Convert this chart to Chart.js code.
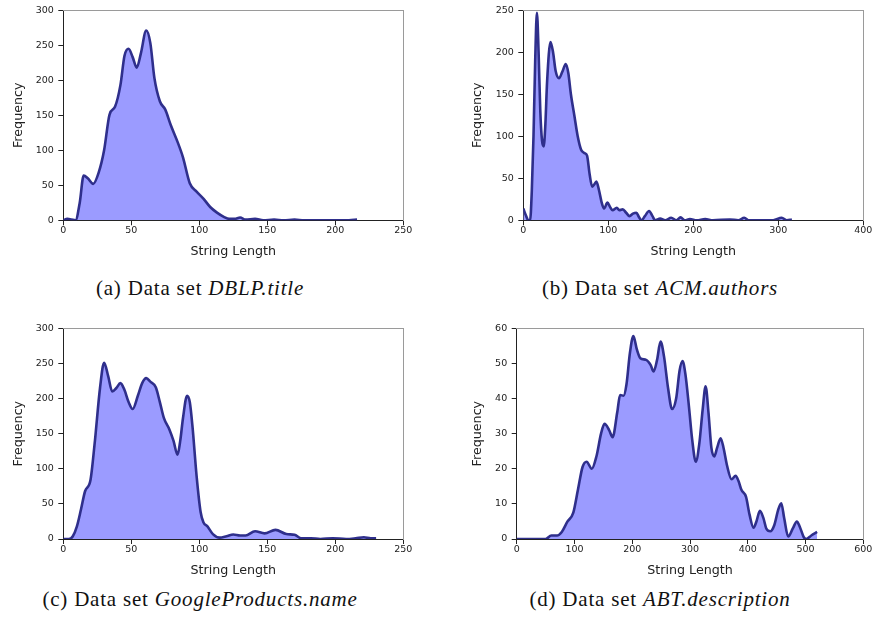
<!DOCTYPE html>
<html>
<head>
<meta charset="utf-8">
<script src="https://cdn.jsdelivr.net/npm/chart.js@4.4.0/dist/chart.umd.min.js"></script>
<style>
  body { margin: 0; background: #fff; width: 875px; height: 623px; position: relative; overflow: hidden; }
  canvas { position: absolute; }
  .cap { position: absolute; width: 440px; text-align: center; font-family: "Liberation Serif", serif; font-size: 21px; line-height: 25px; letter-spacing: 0.8px; color: #111; white-space: nowrap; }
</style>
</head>
<body>
<canvas id="chartA" width="420" height="270" style="left:0;top:0"></canvas>
<canvas id="chartB" width="435" height="270" style="left:440px;top:0"></canvas>
<canvas id="chartC" width="420" height="270" style="left:0;top:310px"></canvas>
<canvas id="chartD" width="435" height="270" style="left:440px;top:310px"></canvas>

<div class="cap" style="left:-20px;top:276px">(a) Data set <i>DBLP.title</i></div>
<div class="cap" style="left:440px;top:276px">(b) Data set <i>ACM.authors</i></div>
<div class="cap" style="left:-20px;top:587px">(c) Data set <i>GoogleProducts.name</i></div>
<div class="cap" style="left:440px;top:587px">(d) Data set <i>ABT.description</i></div>

<script>
// Dados (comprimento da string -> frequência)
const dblpLength = [0, 3, 6, 9, 12, 15, 18, 22, 26, 30, 34, 38, 42, 45, 48, 51, 54, 57, 61, 64, 67, 71, 75, 79, 84, 88, 93, 98, 103, 108, 113, 118, 122, 126, 130, 134, 141, 147, 155, 162, 170, 177, 190, 200, 210, 216];
const dblpFreq   = [0, 2, 1, 0, 24, 64, 60, 52, 68, 100, 151, 162, 193, 235, 245, 233, 218, 238, 271, 253, 203, 170, 158, 136, 112, 90, 53, 41, 31, 19, 11, 5, 2, 2, 4, 1, 2, 0, 1, 0, 1, 0, 0, 0, 0, 1];

const acmLength = [0, 3, 6, 8, 10, 12, 14, 16, 18, 20, 22, 24, 26, 28, 32, 35, 38, 42, 46, 50, 53, 56, 60, 64, 68, 72, 75, 78, 81, 83, 86, 89, 92, 95, 99, 102, 105, 110, 113, 117, 121, 125, 129, 133, 136, 139, 143, 148, 152, 155, 161, 167, 174, 180, 185, 190, 196, 204, 214, 223, 243, 253, 260, 265, 294, 304, 310, 316];
const acmFreq   = [14, 6, 0, 0, 35, 100, 190, 247, 200, 130, 95, 88, 115, 165, 212, 200, 178, 169, 177, 186, 175, 150, 125, 100, 84, 80, 77, 55, 40, 42, 46, 36, 22, 14, 21, 16, 12, 15, 12, 13, 9, 5, 8, 9, 4, 0, 5, 11, 5, 0, 2, 0, 3, 0, 3.5, 0, 1.5, 0, 1.5, 0, 1, 0, 3, 0, 0, 3, 0, 1];

const gpLength = [0, 4, 7, 10, 13, 16, 20, 23, 27, 30, 33, 36, 39, 42, 45, 48, 51, 55, 58, 61, 64, 68, 71, 74, 78, 81, 84, 86, 88, 91, 93, 95, 98, 101, 103, 106, 110, 115, 120, 125, 130, 134, 141, 148, 156, 164, 170, 175, 182, 189, 198, 208, 215, 221, 226, 230];
const gpFreq   = [0, 0, 4, 18, 42, 68, 84, 135, 215, 251, 232, 210, 215, 222, 212, 195, 185, 205, 222, 229, 224, 216, 195, 172, 156, 140, 120, 140, 172, 204, 195, 160, 90, 38, 24, 18, 7, 2, 4, 6.5, 5, 5, 11, 8, 13, 7, 6, 1, 1, 0, 1, 0, 1, 2.4, 1, 1];

const abtLength = [0, 30, 50, 60, 70, 78, 88, 98, 106, 114, 121, 130, 138, 146, 152, 160, 166, 174, 179, 185, 190, 196, 202, 208, 214, 224, 232, 237, 243, 249, 255, 262, 269, 276, 282, 287, 292, 298, 304, 310, 316, 322, 327, 332, 337, 342, 347, 353, 358, 364, 372, 379, 384, 389, 397, 403, 410, 415, 421, 427, 432, 439, 446, 453, 458, 463, 470, 478, 485, 490, 497, 501, 510, 520];
const abtFreq   = [0, 0, 0, 1, 1, 2, 5, 7.5, 14, 20.5, 22, 20, 23.5, 30, 32.8, 31, 29, 36, 41, 40.8, 44, 53, 57.8, 54, 51.5, 51, 49.5, 47.7, 51, 56.2, 52, 43, 37, 40, 48, 50.7, 47, 38, 28, 22, 27, 37, 43.5, 36, 26, 23.5, 26, 28.7, 26, 21, 17, 18, 16.5, 14, 12, 7, 3.2, 5, 8, 6, 3, 2.2, 4, 8.5, 10.2, 6, 0.7, 3, 5, 3.5, 0.5, 0, 1, 2];

// Limites dos eixos
const axisA = { xMax: 250, xStep: 50, yMax: 300, yStep: 50 };
const axisB = { xMax: 400, xStep: 100, yMax: 250, yStep: 50 };
const axisC = { xMax: 250, xStep: 50, yMax: 300, yStep: 50 };
const axisD = { xMax: 600, xStep: 100, yMax: 60, yStep: 10 };

const LINE = '#2f2f8c';
const FILL = '#9b9bff';
const INK = '#222';

Chart.defaults.font.family = 'DejaVu Sans';

function makeChart(id, lengths, freqs, axis, box) {
    const points = lengths.map((x, i) => ({ x, y: freqs[i] }));
    return new Chart(document.getElementById(id), {
        type: 'line',
        data: {
            datasets: [{
                data: points,
                borderColor: LINE,
                backgroundColor: FILL,
                borderWidth: 2.6,
                pointRadius: 0,
                fill: 'origin',
                cubicInterpolationMode: 'monotone'
            }]
        },
        options: {
            responsive: false,
            animation: false,
            devicePixelRatio: 1,
            layout: { padding: { left: 0, top: box.top, right: box.right, bottom: box.bottom } },
            plugins: { legend: { display: false }, tooltip: { enabled: false } },
            scales: {
                x: {
                    type: 'linear', min: 0, max: axis.xMax,
                    ticks: { stepSize: axis.xStep, color: INK, font: { size: 9.5 }, padding: 0, maxRotation: 0, autoSkip: false },
                    grid: { drawOnChartArea: false, tickLength: 5, color: INK },
                    border: { color: INK, width: 1 },
                    title: { display: true, text: 'String Length', color: INK, font: { size: 12.7 }, padding: 0 },
                    afterFit: s => { s.height = box.axisBottom; }
                },
                y: {
                    type: 'linear', min: 0, max: axis.yMax,
                    ticks: { stepSize: axis.yStep, color: INK, font: { size: 9.5 }, padding: 4.5 },
                    grid: { drawOnChartArea: false, tickLength: 5, color: INK },
                    border: { color: INK, width: 1 },
                    title: { display: true, text: 'Frequency', color: INK, font: { size: 12.7 }, padding: { top: box.titleLeft, bottom: 0 } },
                    afterFit: s => { s.width = box.axisLeft; }
                },
                // bordas superior e direita (cinza)
                x2: {
                    axis: 'x', type: 'linear', position: 'top', display: true, min: 0, max: axis.xMax,
                    ticks: { display: false }, grid: { display: false, drawTicks: false },
                    border: { color: '#9a9a9a', width: 1 },
                    afterFit: s => { s.height = 0; }
                },
                y2: {
                    axis: 'y', type: 'linear', position: 'right', display: true, min: 0, max: axis.yMax,
                    ticks: { display: false }, grid: { display: false, drawTicks: false },
                    border: { color: '#9a9a9a', width: 1 },
                    afterFit: s => { s.width = 0; }
                }
            }
        }
    });
}

makeChart('chartA', dblpLength, dblpFreq, axisA, { top: 9.3, right: 16.7, bottom: 10.4, axisBottom: 39.3, axisLeft: 63.3, titleLeft: 10.7 });
makeChart('chartB', acmLength, acmFreq, axisB, { top: 9.3, right: 11.7, bottom: 10.4, axisBottom: 39.3, axisLeft: 83.3, titleLeft: 29.7 });
makeChart('chartC', gpLength, gpFreq, axisC, { top: 18.3, right: 16.7, bottom: 1.9, axisBottom: 39.1, axisLeft: 63.3, titleLeft: 10.7 });
makeChart('chartD', abtLength, abtFreq, axisD, { top: 18.3, right: 11.7, bottom: 1.9, axisBottom: 39.1, axisLeft: 76.7, titleLeft: 29.7 });
</script>
</body>
</html>
